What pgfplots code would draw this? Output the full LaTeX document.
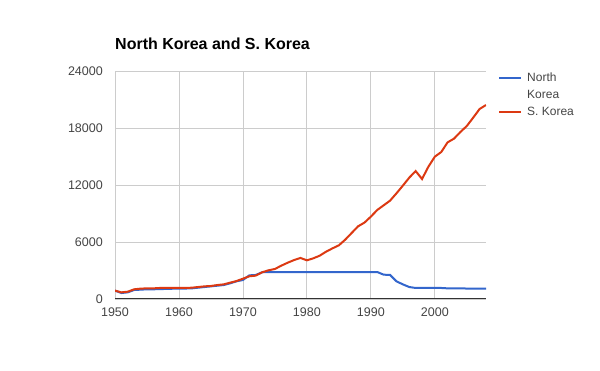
\documentclass[border=0pt]{standalone}
\usepackage{fontspec}
\setmainfont{Liberation Sans}
\usepackage{pgfplots}
\pgfplotsset{compat=1.18}
\definecolor{nkblue}{HTML}{3366CC}
\definecolor{skred}{HTML}{DC3912}
\definecolor{gridgray}{HTML}{CCCCCC}
\definecolor{ticktext}{HTML}{444444}
\begin{document}
\begin{tikzpicture}[x=1pt,y=1pt]
\useasboundingbox (0,0) rectangle (600,371);
\begin{axis}[
  at={(115pt,72pt)}, anchor=south west,
  scale only axis, width=371pt, height=228pt,
  xmin=1950, xmax=2008, ymin=0, ymax=24000,
  xtick={1950,1960,...,2000},
  ytick={0,6000,12000,18000,24000},
  scaled ticks=false,
  /pgf/number format/1000 sep={},
  /pgf/number format/assume math mode=true,
  axis x line*=bottom, axis y line*=left,
  y axis line style={draw=none},
  x axis line style={draw=black!80, line width=1pt, -},
  major tick length=0pt,
  xmajorgrids, ymajorgrids,
  grid style={gridgray, line width=0.8pt},
  tick label style={font=\fontsize{12.5}{14}\selectfont, text=ticktext},
  yticklabel style={inner sep=0pt, anchor=east, xshift=-12pt},
  xticklabel style={inner sep=0pt, anchor=north, yshift=-8.5pt},
  title={\textbf{North Korea and S. Korea}},
  title style={font=\fontsize{16}{18}\selectfont, at={(0,1)}, anchor=base west, inner sep=0pt, yshift=15pt},
  legend style={draw=none, fill=none, at={(1,1)}, anchor=north west, xshift=12pt, yshift=0pt,
    font=\fontsize{12}{14}\selectfont, inner sep=0pt, row sep=3pt,
    cells={anchor=west}, text=ticktext},
  legend image code/.code={\draw[#1] (0pt,0pt) -- (22pt,0pt); \path (25pt,0pt);},
]
\addplot[nkblue, line width=2pt] coordinates {
(1950,880)(1951,630)(1952,700)(1953,950)(1954,980)(1955,1020)(1956,1020)(1957,1040)(1958,1060)(1959,1080)
(1960,1090)(1961,1100)(1962,1120)(1963,1190)(1964,1260)(1965,1330)(1966,1400)(1967,1470)(1968,1650)(1969,1860)
(1970,2000)(1971,2490)(1972,2530)(1973,2810)(1974,2840)(1975,2840)(1976,2840)(1977,2840)(1978,2840)(1979,2840)
(1980,2840)(1981,2840)(1982,2840)(1983,2840)(1984,2840)(1985,2840)(1986,2840)(1987,2840)(1988,2840)(1989,2840)
(1990,2840)(1991,2840)(1992,2560)(1993,2530)(1994,1860)(1995,1540)(1996,1260)(1997,1160)(1998,1160)(1999,1170)
(2000,1160)(2001,1160)(2002,1120)(2003,1120)(2004,1120)(2005,1100)(2006,1100)(2007,1090)(2008,1090)
};
\addlegendentry{North}
\addlegendimage{opacity=0}
\addlegendentry{Korea}
\addplot[skred, line width=2pt] coordinates {
(1950,880)(1951,700)(1952,770)(1953,1020)(1954,1090)(1955,1120)(1956,1120)(1957,1160)(1958,1160)(1959,1160)
(1960,1160)(1961,1160)(1962,1190)(1963,1260)(1964,1330)(1965,1370)(1966,1470)(1967,1540)(1968,1720)(1969,1890)
(1970,2140)(1971,2390)(1972,2460)(1973,2810)(1974,3020)(1975,3160)(1976,3510)(1977,3820)(1978,4100)(1979,4320)
(1980,4070)(1981,4280)(1982,4560)(1983,4980)(1984,5330)(1985,5650)(1986,6250)(1987,6950)(1988,7650)(1989,8040)
(1990,8670)(1991,9370)(1992,9860)(1993,10350)(1994,11120)(1995,11930)(1996,12770)(1997,13470)(1998,12630)(1999,13930)
(2000,14980)(2001,15470)(2002,16490)(2003,16880)(2004,17580)(2005,18210)(2006,19090)(2007,20000)(2008,20420)
};
\addlegendentry{S. Korea}
\end{axis}
\end{tikzpicture}
\end{document}
